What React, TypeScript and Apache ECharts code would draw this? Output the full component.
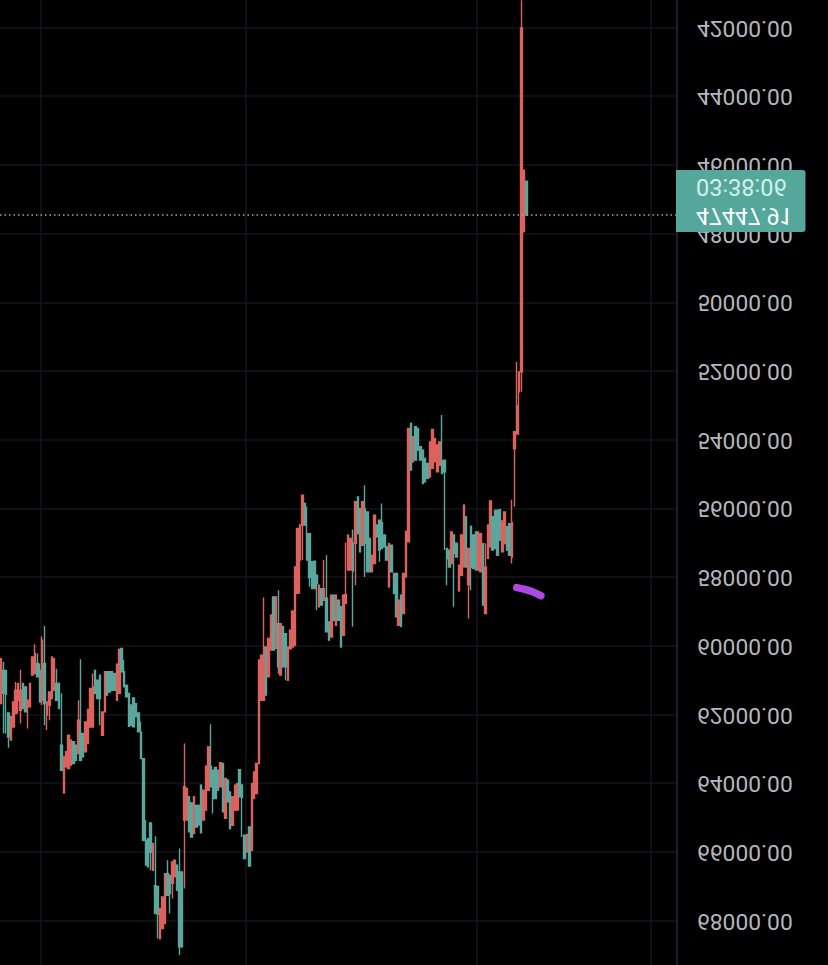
import React, { useEffect, useRef } from "react";
import * as echarts from "echarts";

// [open, close, low, high]
const rangeBeforeDrop: number[][] = [
  [61670,60360,60360,61670],[60700,61370,60450,62540],[60700,61400,60700,62540],[61940,62640,61940,62950],
  [62730,62050,62050,62730],[62350,61620,61620,62350],[61960,61280,61040,61960],[61570,61080,61080,61960],
  [61860,61280,60680,62250],[61080,61810,61080,61810],[61180,61910,61180,61910],[61760,61570,61570,62390],
  [61760,61080,61080,61760],[60840,60310,60310,60840],[60790,60210,59940,60790],[60500,60890,60210,60890],
  [60700,61620,60500,61620],[61570,59820,59710,61710],[60500,61670,59410,62300],[62000,61620,61620,62440],
  [61710,61330,61330,62150],[61520,60310,60310,61520],[61280,60360,60360,61280],[61080,61570,60650,61570],
  [61080,61810,61080,61810],[62880,63610,61370,63610],[64270,63220,63220,64270],[63510,63070,63070,63510],
];
const choppyRecovery: number[][] = [
  [63560,62590,62590,63560],[63460,62730,62730,63460],[62780,63410,62780,63410],[62880,63320,62880,63320],
  [63120,62150,61570,63120],[62540,63320,60380,63320],[62540,63220,62540,63220],[63070,62200,62200,63070],
  [62830,61840,61840,62830],[62350,61230,61230,62350],[62350,61180,60790,62350],[60700,61370,60700,61370],
  [60990,61520,60990,61520],[60840,61520,60840,62300],[62590,61910,61910,62590],[61910,60740,60740,61910],
  [60740,61420,60740,61420],[60740,61330,60740,61330],[60740,61280,60740,61280],[60790,61280,60790,61280],
  [61570,60520,60520,61570],[61370,60090,60090,61370],[60060,60740,60060,60740],[60740,61180,60400,61180],
  [61130,61470,61130,61470],[61370,62330,61370,62330],[61710,62300,61710,62300],[61500,62340,61500,62340],
  [61670,62050,61670,62050],[61940,62490,61940,62490],[62500,63270,62200,63270],
];
const sharpSelloff: number[][] = [
  [63270,65650,63270,65650],[65650,66370,65060,66370],[65600,66420,65600,66420],[65140,66000,65140,66520],
  [66520,65740,65740,66520],[66970,67780,65530,67780],[67000,67800,67000,68510],[68510,67640,67640,68510],
  [68220,67300,67300,68220],[68070,66620,66620,68070],[66610,67250,66230,67250],[66670,67200,66670,67780],
  [66900,66280,66280,67340],[66710,66230,66230,66710],[66370,67100,66370,67100],[66570,68750,65890,68990],
  [66570,68750,66570,68750],
];
const baseBuilding: number[][] = [
  [65060,64090,62830,67050],[65060,64140,64140,65060],[64380,65400,64380,65400],[64560,65550,64560,65550],
  [65450,64380,64380,65450],[64630,65260,64630,65260],[64630,65200,64630,65200],[64040,65430,64040,65430],
  [65060,64190,64190,65060],[64770,63490,63490,64770],[64190,62930,62930,64190],[63500,64090,62270,64090],
  [63610,64430,63610,64870],[63530,64430,63530,64430],[63610,64190,63610,64190],[64090,63390,63390,64090],
  [63410,64820,63410,64820],[65010,63850,63850,65010],[63900,64530,63900,64530],[64240,65310,64240,65310],
  [65210,64380,64380,65210],[64770,64040,64040,64770],[64770,64000,64000,64770],[63590,64380,63590,64380],
  [64040,64400,64040,65550],[65500,66180,65500,66180],[65990,65480,65480,65990],[65260,66400,65260,66400],
];
const firstRally: number[][] = [
  [65940,64000,64000,65940],[64430,63660,63660,64430],[64290,63410,63410,64290],[63410,60400,60400,63410],
  [61570,60260,60260,61570],[61570,60020,58580,61570],[60020,61420,60020,61420],[60890,59770,59770,60890],
  [60110,59090,59090,60110],[58560,60110,58560,60110],[60060,58560,58560,60060],[59340,60600,58370,60790],
  [60840,59340,59340,60840],[59430,60600,59430,60600],[59630,60600,59630,60990],[60990,60020,60020,60990],
  [60070,59530,59530,60070],[60020,58970,58970,60020],[59970,57690,57690,59970],[58460,56570,56570,58460],
  [57490,56470,56470,58460],[56470,55600,55600,57490],
];
const midPlateau: number[][] = [
  [55840,56470,55840,56470],[56720,57490,55940,57490],[56720,58000,56720,58270],[57540,58320,57540,58320],
  [57520,58320,57520,58320],[57930,58170,57930,58950],[58850,58220,58220,58850],[58320,58800,58320,58800],
  [58660,58320,57490,58660],[58600,59580,57350,59580],[59290,59820,59290,59820],[59730,58510,58510,59730],
  [58510,59240,58510,59240],[59390,58510,58510,59390],[58660,59240,58660,59240],[58850,60020,58850,60020],
  [59680,58510,58510,59680],[58750,58500,56980,58750],[57780,56760,56760,57780],[57780,56860,56860,57780],
  [57000,57800,56600,59430],[57000,55790,55790,58220],[55650,56720,55650,56720],[55990,57250,55990,57250],
  [57060,55790,55790,57060],[56000,57000,55310,57980],[56090,57830,56090,57830],[56860,57830,56860,57830],
  [57830,57350,57350,57830],[57590,56180,56180,57590],[56470,56810,56470,56810],[56330,57200,56330,57540],
  [56400,57150,55840,57150],[56760,57100,56760,57100],[57100,57490,57100,57490],[58270,57010,57010,58270],
  [57060,57830,57060,57830],[57880,58460,57880,58460],[57880,59140,57880,59140],[59390,58660,58660,59390],
  [58510,59420,58510,59420],[59050,57880,57880,59050],[57980,56650,56650,57980],
];
const upperPlateau: number[][] = [
  [56960,53660,53660,56960],[53510,54870,53510,54870],[54630,53900,53900,54630],[53610,54580,53610,54580],
  [53660,54290,53660,54290],[54190,54580,54190,54580],[54290,55260,54290,55260],[54530,55210,54530,55210],
  [54680,55110,54680,55110],[55070,54050,54050,55070],[54820,53690,53690,54820],[54630,53950,53950,54630],
  [54920,54140,54140,54920],[54730,54050,54050,54730],[54600,54970,53270,54970],[54580,54920,54580,57200],
];
const preCrashRange: number[][] = [
  [57150,57450,57150,58220],[57200,57690,57200,57690],[57590,56670,56670,57590],[56760,57300,56760,58850],
  [57000,57400,57000,57400],[58390,57640,57640,58390],[57930,56760,56760,57930],[57690,55890,55890,57690],
  [56230,57690,56230,57690],[58200,57150,57150,59190],[56500,57700,56500,58370],[56760,57740,56760,57740],
  [56670,57780,56670,57780],[57780,56670,56670,57780],[57830,56720,56720,57830],[57010,58800,57010,58800],
  [59050,57700,57000,59050],[57440,56470,56470,57440],[57100,55770,55770,57100],[56230,57200,56230,57200],
  [56040,57150,56040,57150],[56040,57350,56040,57350],[56020,56910,56020,56910],[57250,56350,56350,57250],
  [57010,56090,56090,57010],[56520,57200,56520,57200],[56430,57350,56430,57350],[57400,56400,55730,57590],
];
const crashCandles: number[][] = [
  [54240,53750,53750,55940],[53800,53000,51720,53850],[52590,52010,52010,53850],[52010,42000,41190,52590],
  [47930,46140,46140,47930],[46460,47447.16,46460,47447.16],
];

const lastPrice = 47447.16;
const lastPriceLabel = "47447.91";
const countdownLabel = "03:38:06";
const gridTickIndexes = [17, 102, 198, 270];
const slotCount = 281;
const slots = Array.from({ length: slotCount }, (_, i) => String(i));
const annotationSlots = [214, 217, 221, 224];
const annotationPrices = [58292, 58336, 58423, 58525];

const candles = [
  ...rangeBeforeDrop, ...choppyRecovery, ...sharpSelloff, ...baseBuilding,
  ...firstRally, ...midPlateau, ...upperPlateau, ...preCrashRange, ...crashCandles,
];

const RED = "#dc625e";
const TEAL = "#5ba79d";
const GRID = "#13151a";

export default function App() {
  const ref = useRef<HTMLDivElement>(null);
  useEffect(() => {
    if (!ref.current) return;
    const chart = echarts.init(ref.current, undefined, { renderer: "svg" });
    chart.setOption({
      animation: false,
      backgroundColor: "#000000",
      grid: { left: 0, top: -24.8, width: 677, height: 1030.5, containLabel: false, outerBoundsMode: "none" },
      xAxis: {
        type: "category",
        data: slots,
        boundaryGap: true,
        axisLabel: { show: false },
        axisTick: { show: false },
        axisLine: { show: false },
        splitLine: {
          show: true,
          interval: (index: number) => gridTickIndexes.includes(index),
          lineStyle: { color: GRID, width: 1.5 },
        },
      },
      yAxis: {
        type: "value",
        position: "right",
        min: 40000,
        max: 70000,
        interval: 2000,
        axisLine: { show: true, lineStyle: { color: "#25272c", width: 1.5 } },
        axisTick: { show: false },
        splitLine: { show: true, lineStyle: { color: GRID, width: 1.5 } },
        axisLabel: {
          show: true,
          showMinLabel: false,
          showMaxLabel: false,
          margin: 20,
          color: "#b4b7be",
          fontFamily: "Roboto",
          fontSize: 22.8,
          formatter: (v: number) => v.toFixed(2),
        },
      },
      series: [
        {
          type: "candlestick",
          data: candles,
          barWidth: 2,
          itemStyle: {
            color: TEAL,
            color0: RED,
            borderColor: TEAL,
            borderColor0: RED,
            borderWidth: 1.4,
          },
          markLine: {
            silent: true,
            symbol: "none",
            label: { show: false },
            lineStyle: { color: "#8ab3ab", type: [1.5, 3], width: 1.5 },
            data: [{ yAxis: lastPrice }],
          },
        },
        {
          type: "line",
          data: annotationSlots.map((s, i) => [s, annotationPrices[i]]),
          smooth: 0.3,
          showSymbol: false,
          symbol: "none",
          lineStyle: { color: "#ac47e0", width: 7.5, cap: "round" },
          z: 5,
        },
      ],
      graphic: [
        {
          type: "rect",
          z: 100,
          shape: { x: 676, y: 733, width: 129.5, height: 62, r: [0, 3, 3, 0] },
          style: { fill: "#55a79c" },
        },
        {
          type: "text",
          z: 101,
          x: 696,
          y: 749.5,
          style: {
            text: lastPriceLabel,
            fill: "#ffffff",
            font: "23px Roboto",
            textAlign: "left",
            textVerticalAlign: "middle",
          },
        },
        {
          type: "text",
          z: 101,
          x: 696,
          y: 778,
          style: {
            text: countdownLabel,
            fill: "#d3f0ea",
            font: "23.5px Roboto",
            textAlign: "left",
            textVerticalAlign: "middle",
          },
        },
      ],
    });
    return () => chart.dispose();
  }, []);
  return (
    <div
      ref={ref}
      style={{
        position: "absolute",
        left: 0,
        top: 0,
        width: 828,
        height: 965,
        overflow: "hidden",
        background: "#000",
        transform: "scaleY(-1)",
      }}
    />
  );
}
